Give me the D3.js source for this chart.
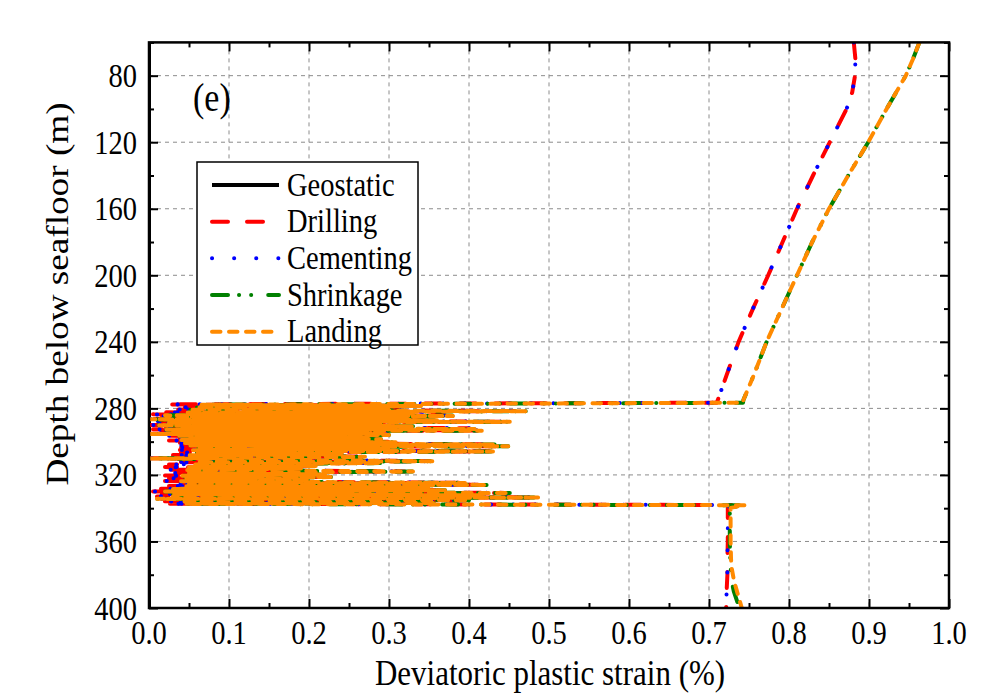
<!DOCTYPE html>
<html>
<head>
<meta charset="utf-8">
<script src="https://cdn.jsdelivr.net/npm/d3@7"></script>
<style>
  html, body { margin: 0; padding: 0; background: #ffffff; }
  svg { display: block; }
</style>
</head>
<body>
<svg id="chart" width="999" height="698"></svg>
<script>
// ---------------- data ----------------
const seriesNames  = ["Geostatic", "Drilling", "Cementing", "Shrinkage", "Landing"];
const seriesColors = ["#000000", "#ff0000", "#0000ff", "#008000", "#ff8a00"];

const xTicks = [0.0, 0.1, 0.2, 0.3, 0.4, 0.5, 0.6, 0.7, 0.8, 0.9, 1.0];
const xMinorTicks = [0.05, 0.15, 0.25, 0.35, 0.45, 0.55, 0.65, 0.75, 0.85, 0.95];
const yTicks = [80, 120, 160, 200, 240, 280, 320, 360, 400];
const yMinorTicks = [60, 100, 140, 180, 220, 260, 300, 340, 380];

// Geostatic stage: no plastic strain along the profile
const geostaticDepth  = [60, 400];
const geostaticStrain = [0, 0];

// Upper section (smooth part above the hydrate-bearing layer)
const upperDepth   = [60, 70, 80, 90, 100, 120, 140, 160, 180, 200, 220, 240, 260, 275, 276.6];
const upperStrainA = [0.881, 0.883, 0.8825, 0.879, 0.872, 0.851, 0.830, 0.810, 0.792, 0.774, 0.755, 0.737, 0.722, 0.711, 0.7096];
const upperStrainB = [0.963, 0.955, 0.946, 0.934, 0.922, 0.899, 0.874, 0.850, 0.829, 0.810, 0.791, 0.772, 0.756, 0.743, 0.7425];

// Oscillating zone, [depth (m), strain (%)] – drilling / cementing
const zoneA = [
  [277.6, 0.022], [278.5, 0.33], [279.3, 0.045], [280.1, 0.31], [280.7, 0.03], [281.6, 0.465],
  [282.4, 0.02], [283.0, 0.32], [283.6, 0.005], [284.2, 0.37], [284.8, 0.015], [285.5, 0.30],
  [286.3, 0.0], [287.0, 0.35], [287.6, 0.01], [288.0, 0.445], [288.7, 0.005], [289.4, 0.28],
  [290.0, 0.0], [290.7, 0.32], [291.3, 0.02], [291.9, 0.40], [292.5, 0.005], [293.3, 0.41],
  [293.9, 0.015], [294.5, 0.26], [295.2, 0.0], [295.9, 0.29], [296.5, 0.02], [297.2, 0.24],
  [297.9, 0.03], [298.6, 0.28], [299.3, 0.025], [300.0, 0.30], [300.7, 0.03], [301.6, 0.425],
  [302.2, 0.035], [302.7, 0.44], [303.5, 0.04], [304.3, 0.29], [305.0, 0.035], [305.8, 0.425],
  [306.6, 0.04], [307.4, 0.23], [308.1, 0.03], [309.0, 0.26], [310.0, 0.0], [311.7, 0.35],
  [312.3, 0.03], [312.8, 0.28], [313.7, 0.025], [314.5, 0.20], [315.3, 0.02], [316.1, 0.18],
  [316.9, 0.025], [317.9, 0.32], [318.8, 0.03], [319.6, 0.21], [320.4, 0.02], [321.2, 0.22],
  [322.0, 0.025], [322.9, 0.19], [323.7, 0.02], [324.7, 0.39], [325.3, 0.03], [325.9, 0.415],
  [326.7, 0.025], [327.5, 0.34], [328.3, 0.015], [329.1, 0.36], [329.9, 0.005], [330.8, 0.445],
  [331.5, 0.015], [332.2, 0.41], [332.9, 0.01], [333.5, 0.48], [334.3, 0.005], [335.1, 0.39],
  [335.9, 0.02], [336.7, 0.35], [337.3, 0.025]
];

// Oscillating zone, [depth (m), strain (%)] – shrinkage / landing
const zoneB = [
  [277.8, 0.065], [278.6, 0.34], [279.4, 0.06], [280.2, 0.30], [280.8, 0.05], [281.7, 0.472],
  [282.5, 0.045], [283.0, 0.33], [283.4, 0.05], [283.8, 0.30], [284.2, 0.02], [284.6, 0.38],
  [285.0, 0.04], [285.4, 0.31], [285.8, 0.06], [286.2, 0.28], [286.6, 0.0], [287.1, 0.36],
  [287.5, 0.03], [288.1, 0.451], [288.6, 0.025], [289.0, 0.29], [289.4, 0.06], [289.8, 0.27],
  [290.2, 0.01], [290.7, 0.33], [291.1, 0.04], [291.6, 0.30], [292.0, 0.05], [292.4, 0.407],
  [292.8, 0.02], [293.4, 0.416], [293.8, 0.03], [294.2, 0.27], [294.6, 0.06], [295.0, 0.29],
  [295.4, 0.0], [296.0, 0.30], [296.4, 0.035], [296.8, 0.25], [297.2, 0.06], [297.6, 0.27],
  [298.0, 0.05], [298.5, 0.29], [299.0, 0.04], [299.5, 0.26], [300.0, 0.045], [300.4, 0.31],
  [300.8, 0.045], [301.7, 0.432], [302.3, 0.05], [302.8, 0.449], [303.6, 0.06], [304.4, 0.30],
  [305.1, 0.055], [305.9, 0.43], [306.7, 0.06], [307.5, 0.24], [308.2, 0.05], [309.1, 0.27],
  [310.1, 0.0], [311.8, 0.3575], [312.4, 0.06], [312.9, 0.289], [313.8, 0.055], [314.6, 0.21],
  [315.4, 0.05], [316.2, 0.19], [317.0, 0.045], [318.0, 0.33], [318.9, 0.05], [319.7, 0.22],
  [320.5, 0.04], [321.3, 0.23], [322.1, 0.045], [323.0, 0.20], [323.8, 0.04], [324.8, 0.395],
  [325.4, 0.05], [326.0, 0.422], [326.8, 0.045], [327.6, 0.35], [328.4, 0.03], [329.2, 0.37],
  [330.0, 0.02], [330.9, 0.451], [331.6, 0.03], [332.3, 0.42], [333.0, 0.03], [333.6, 0.489],
  [334.4, 0.01], [335.2, 0.40], [336.0, 0.04], [336.8, 0.36], [337.4, 0.045]
];

// Lower section (below the oscillating zone)
const lowerDepthA  = [338.1, 340, 350, 360, 370, 380, 390, 400];
const lowerStrainA = [0.728, 0.7235, 0.7235, 0.7235, 0.723, 0.723, 0.722, 0.7215];
const lowerDepthB  = [338.2, 339.8, 350, 360, 370, 375, 383, 390, 400];
const lowerStrainShrinkage = [0.7425, 0.726, 0.726, 0.726, 0.7265, 0.727, 0.728, 0.731, 0.738];
const lowerStrainLanding   = [0.745, 0.727, 0.727, 0.727, 0.7275, 0.728, 0.731, 0.735, 0.741];

// ---------------- layout ----------------
const FONT = "'Liberation Serif', 'Times New Roman', Times, serif";
const SY = 1.2;               // vertical stretch of the lettering
const plot = { left: 149, right: 949, top: 42.4, bottom: 608 };

const svg = d3.select("#chart");
const x = d3.scaleLinear().domain([0, 1]).range([plot.left, plot.right]);
const y = d3.scaleLinear().domain([60, 400]).range([plot.top, plot.bottom]);

// build each series as a list of {d, s}
const pairs = (ds, ss) => ds.map((d, i) => ({ d: d, s: ss[i] }));
const fromZone = z => z.map(p => ({ d: p[0], s: p[1] }));

const curveA = pairs(upperDepth, upperStrainA).concat(fromZone(zoneA), pairs(lowerDepthA, lowerStrainA));
const curveShrink = pairs(upperDepth, upperStrainB).concat(fromZone(zoneB), pairs(lowerDepthB, lowerStrainShrinkage));
const curveLand   = pairs(upperDepth, upperStrainB).concat(fromZone(zoneB), pairs(lowerDepthB, lowerStrainLanding));
const curveGeo    = pairs(geostaticDepth, geostaticStrain);

const seriesData = [curveGeo, curveA, curveA, curveShrink, curveLand];
const dashes = [null, "16,19", "0.1,22", "16,11,0.1,12,0.1,17", "8.5,8.5"];

// ---------------- grid ----------------
const grid = svg.append("g").attr("class", "grid")
  .attr("stroke", "#8c8c8c").attr("stroke-width", 1).attr("stroke-dasharray", "4,4");
grid.selectAll("line.v").data(xTicks.filter(v => v > 0 && v < 1)).enter().append("line")
  .attr("x1", d => x(d)).attr("x2", d => x(d)).attr("y1", plot.top).attr("y2", plot.bottom);
grid.selectAll("line.h").data(yTicks.filter(v => v < 400)).enter().append("line")
  .attr("y1", d => y(d)).attr("y2", d => y(d)).attr("x1", plot.left).attr("x2", plot.right);

// ---------------- series ----------------
svg.append("defs").append("clipPath").attr("id", "plotClip").append("rect")
  .attr("x", plot.left).attr("y", plot.top)
  .attr("width", plot.right - plot.left).attr("height", plot.bottom - plot.top);

const line = d3.line().x(p => x(p.s)).y(p => y(p.d));
const lines = svg.append("g").attr("clip-path", "url(#plotClip)");
seriesData.forEach((data, i) => {
  lines.append("path")
    .datum(data)
    .attr("d", line)
    .attr("fill", "none")
    .attr("stroke", seriesColors[i])
    .attr("stroke-width", 4)
    .attr("stroke-linecap", i === 0 ? "butt" : "round")
    .attr("stroke-linejoin", "round")
    .attr("stroke-dasharray", dashes[i]);
});

// ---------------- axes (inward ticks on all four sides) ----------------
function styleAxis(g) {
  g.select(".domain").remove();
  g.selectAll(".tick line").attr("stroke", "#000").attr("stroke-width", 2);
  g.selectAll(".tick text").remove();
}
svg.append("g").attr("transform", `translate(0,${plot.bottom})`)
  .call(d3.axisBottom(x).tickValues(xTicks).tickSize(-9).tickFormat("")).call(styleAxis);
svg.append("g").attr("transform", `translate(0,${plot.bottom})`)
  .call(d3.axisBottom(x).tickValues(xMinorTicks).tickSize(-5).tickFormat("")).call(styleAxis);
svg.append("g").attr("transform", `translate(0,${plot.top})`)
  .call(d3.axisTop(x).tickValues(xTicks).tickSize(-9).tickFormat("")).call(styleAxis);
svg.append("g").attr("transform", `translate(0,${plot.top})`)
  .call(d3.axisTop(x).tickValues(xMinorTicks).tickSize(-5).tickFormat("")).call(styleAxis);
svg.append("g").attr("transform", `translate(${plot.left},0)`)
  .call(d3.axisLeft(y).tickValues(yTicks).tickSize(-9).tickFormat("")).call(styleAxis);
svg.append("g").attr("transform", `translate(${plot.left},0)`)
  .call(d3.axisLeft(y).tickValues(yMinorTicks).tickSize(-5).tickFormat("")).call(styleAxis);
svg.append("g").attr("transform", `translate(${plot.right},0)`)
  .call(d3.axisRight(y).tickValues(yTicks).tickSize(-9).tickFormat("")).call(styleAxis);
svg.append("g").attr("transform", `translate(${plot.right},0)`)
  .call(d3.axisRight(y).tickValues(yMinorTicks).tickSize(-5).tickFormat("")).call(styleAxis);

svg.append("rect")
  .attr("x", plot.left).attr("y", plot.top)
  .attr("width", plot.right - plot.left).attr("height", plot.bottom - plot.top)
  .attr("fill", "none").attr("stroke", "#000").attr("stroke-width", 2.5);

// ---------------- text helper ----------------
function label(parent, tx, ty, str, size, anchor, rotate, sy) {
  const g = parent.append("g")
    .attr("transform", `translate(${tx},${ty}) scale(1,${sy || SY})` + (rotate ? ` rotate(${rotate})` : ""));
  g.append("text")
    .attr("x", 0).attr("y", 0)
    .attr("text-anchor", anchor)
    .attr("font-family", FONT)
    .attr("font-size", size)
    .attr("fill", "#000")
    .text(str);
  return g;
}

// tick labels
const fmt = d3.format(".1f");
xTicks.forEach(v => label(svg, x(v), 644, fmt(v), 28.5, "middle"));
yTicks.forEach(v => label(svg, 137, y(v) + 11.5, String(v), 28.5, "end"));

// axis titles
label(svg, 550, 685, "Deviatoric plastic strain (%)", 31, "middle", null, 1.15);
label(svg, 68, 294, "Depth below seafloor (m)", 31, "middle", -90);

// panel tag
label(svg, 193, 111, "(e)", 34, "start");

// ---------------- legend ----------------
const legend = svg.append("g");
legend.append("rect")
  .attr("x", 197).attr("y", 162).attr("width", 221).attr("height", 183)
  .attr("fill", "#fff").attr("stroke", "#000").attr("stroke-width", 1.5);
const rowY = d3.scalePoint().domain(seriesNames).range([185, 331.7]);
seriesNames.forEach((name, i) => {
  const yy = rowY(name);
  legend.append("line")
    .attr("x1", 212).attr("x2", 279).attr("y1", yy).attr("y2", yy)
    .attr("stroke", seriesColors[i]).attr("stroke-width", 4)
    .attr("stroke-linecap", i === 0 ? "butt" : "round")
    .attr("stroke-dasharray", dashes[i]);
  label(legend, 287, yy + 10.5, name, 28.5, "start");
});
</script>
</body>
</html>
